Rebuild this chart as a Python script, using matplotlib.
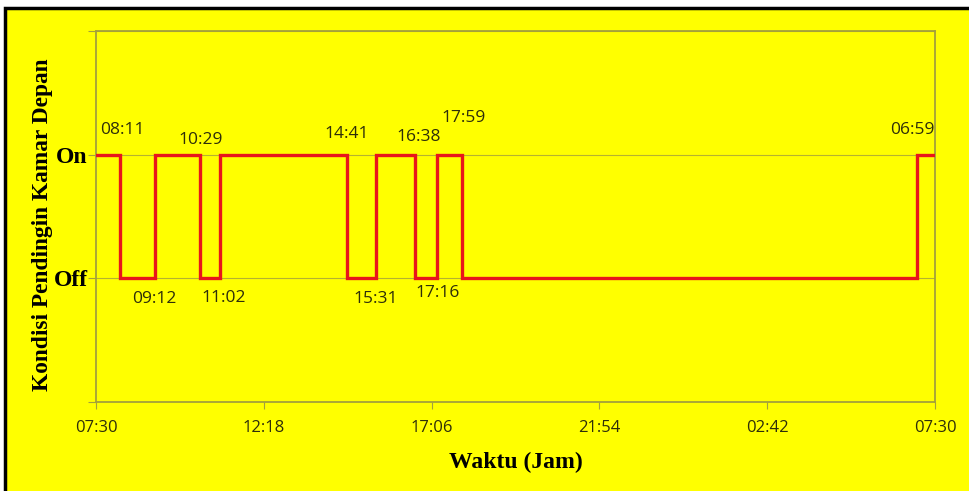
# Kondisi pendingin kamar depan terhadap waktu
import matplotlib.pyplot as plt
from matplotlib.patches import Rectangle
from matplotlib.ticker import FixedLocator

# Data
waktu = ['07:30', '08:11', '09:12', '10:29', '11:02', '14:41', '15:31',
         '16:38', '17:16', '17:59', '06:59', '07:30']
kondisi = [2, 1, 2, 1, 2, 1, 2, 1, 2, 1, 2, 2]   # 2 = On, 1 = Off
label_y = ['', 'Off', 'On', '']
tick_x = ['07:30', '12:18', '17:06', '21:54', '02:42', '07:30']


def to_hours(seq):
    out = []
    for s in seq:
        h, m = s.split(':')
        v = int(h) + int(m) / 60
        while out and v <= out[-1]:
            v += 24
        out.append(v)
    return out


jam = to_hours(waktu)
jam_tick = to_hours(tick_x)

# label offsets (pixels); positive dy -> above the On line, negative -> below Off
offsets = [(2, 25), (-1, -21), (0, 15), (4, -20), (0, 21), (-1, -21),
           (3, 18), (0, -15), (1, 37), (-5, 25)]

yellow = '#ffff00'
olive = '#a3a03c'
txt = '#2e2e0a'

fig = plt.figure(figsize=(9.69, 4.91), dpi=100, facecolor='white')
fig.patches.append(Rectangle((5 / 969, -0.01), 1.0, 1 - 8 / 491 + 0.01,
                             transform=fig.transFigure, facecolor=yellow,
                             edgecolor='black', linewidth=2.5, zorder=-1))

ax = fig.add_axes([96 / 969, 89 / 491, 839 / 969, 371 / 491], zorder=2)
ax.set_facecolor(yellow)

ax.plot(jam, kondisi, drawstyle='steps-post', color='#e8161b', lw=2.4,
        zorder=3, solid_joinstyle='miter')

for i in range(1, len(waktu) - 1):
    dx, dy = offsets[i - 1]
    base = max(kondisi) if dy > 0 else min(kondisi)
    ax.annotate(waktu[i], (jam[i], base),
                xytext=(dx, dy), textcoords='offset pixels', ha='center',
                va='center', fontsize=12.5, color=txt, family='Open Sans')

ax.set_xlim(jam[0], jam[-1])
ax.set_ylim(0, 3)
ax.xaxis.set_major_locator(FixedLocator(jam_tick))
ax.set_xticklabels(tick_x, fontsize=12, color=txt, family='Open Sans')
ax.set_yticks([0, 1, 2, 3])
ax.set_yticklabels(label_y, fontsize=17, fontweight='bold',
                   family='Liberation Serif', color='black')
ax.tick_params(axis='x', length=5, color=olive, pad=8)
ax.tick_params(axis='y', length=6, color=olive, pad=0)
ax.grid(axis='y', color=olive, lw=0.8, alpha=0.8)
for sp in ax.spines.values():
    sp.set_color(olive)
    sp.set_linewidth(1.3)

ax.set_xlabel('Waktu (Jam)', fontsize=17, fontweight='bold',
              family='Liberation Serif', va='center')
ax.xaxis.set_label_coords(0.5006, -0.162)
ax.set_ylabel('Kondisi Pendingin Kamar Depan', fontsize=16.8, fontweight='bold',
              family='Liberation Serif', va='center')
ax.yaxis.set_label_coords(-0.064, 0.478)

plt.savefig('out.png', dpi=100, facecolor=fig.get_facecolor())
